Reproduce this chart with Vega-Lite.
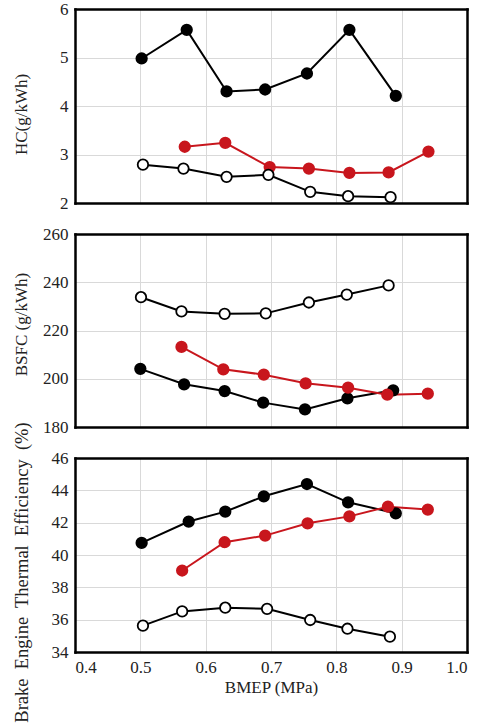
{
  "$schema": "https://vega.github.io/schema/vega-lite/v6.json",
  "background": "white",
  "padding": {"left": 11, "top": 0, "right": 5, "bottom": 0},
  "spacing": 31,
  "bounds": "flush",
  "datasets": {
    "hc": [
      {"bmep": 0.502, "value": 4.98, "series": "filled"},
      {"bmep": 0.571, "value": 5.57, "series": "filled"},
      {"bmep": 0.632, "value": 4.30, "series": "filled"},
      {"bmep": 0.691, "value": 4.34, "series": "filled"},
      {"bmep": 0.755, "value": 4.67, "series": "filled"},
      {"bmep": 0.820, "value": 5.57, "series": "filled"},
      {"bmep": 0.891, "value": 4.21, "series": "filled"},
      {"bmep": 0.568, "value": 3.16, "series": "red"},
      {"bmep": 0.630, "value": 3.24, "series": "red"},
      {"bmep": 0.698, "value": 2.74, "series": "red"},
      {"bmep": 0.758, "value": 2.71, "series": "red"},
      {"bmep": 0.820, "value": 2.62, "series": "red"},
      {"bmep": 0.880, "value": 2.63, "series": "red"},
      {"bmep": 0.941, "value": 3.06, "series": "red"},
      {"bmep": 0.504, "value": 2.79, "series": "open"},
      {"bmep": 0.566, "value": 2.71, "series": "open"},
      {"bmep": 0.632, "value": 2.54, "series": "open"},
      {"bmep": 0.696, "value": 2.58, "series": "open"},
      {"bmep": 0.760, "value": 2.23, "series": "open"},
      {"bmep": 0.818, "value": 2.14, "series": "open"},
      {"bmep": 0.883, "value": 2.12, "series": "open"}
    ],
    "bsfc": [
      {"bmep": 0.501, "value": 233.8, "series": "open"},
      {"bmep": 0.563, "value": 227.9, "series": "open"},
      {"bmep": 0.629, "value": 226.9, "series": "open"},
      {"bmep": 0.692, "value": 227.1, "series": "open"},
      {"bmep": 0.758, "value": 231.6, "series": "open"},
      {"bmep": 0.816, "value": 234.9, "series": "open"},
      {"bmep": 0.880, "value": 238.7, "series": "open"},
      {"bmep": 0.500, "value": 204.1, "series": "filled"},
      {"bmep": 0.567, "value": 197.7, "series": "filled"},
      {"bmep": 0.629, "value": 194.9, "series": "filled"},
      {"bmep": 0.688, "value": 190.1, "series": "filled"},
      {"bmep": 0.752, "value": 187.3, "series": "filled"},
      {"bmep": 0.817, "value": 191.9, "series": "filled"},
      {"bmep": 0.887, "value": 195.2, "series": "filled"},
      {"bmep": 0.563, "value": 213.2, "series": "red"},
      {"bmep": 0.627, "value": 203.9, "series": "red"},
      {"bmep": 0.689, "value": 201.7, "series": "red"},
      {"bmep": 0.753, "value": 198.1, "series": "red"},
      {"bmep": 0.818, "value": 196.3, "series": "red"},
      {"bmep": 0.878, "value": 193.4, "series": "red"},
      {"bmep": 0.940, "value": 193.8, "series": "red"}
    ],
    "bte": [
      {"bmep": 0.502, "value": 40.75, "series": "filled"},
      {"bmep": 0.574, "value": 42.07, "series": "filled"},
      {"bmep": 0.630, "value": 42.68, "series": "filled"},
      {"bmep": 0.689, "value": 43.63, "series": "filled"},
      {"bmep": 0.755, "value": 44.39, "series": "filled"},
      {"bmep": 0.818, "value": 43.26, "series": "filled"},
      {"bmep": 0.891, "value": 42.58, "series": "filled"},
      {"bmep": 0.564, "value": 39.04, "series": "red"},
      {"bmep": 0.629, "value": 40.79, "series": "red"},
      {"bmep": 0.691, "value": 41.20, "series": "red"},
      {"bmep": 0.756, "value": 41.96, "series": "red"},
      {"bmep": 0.820, "value": 42.39, "series": "red"},
      {"bmep": 0.879, "value": 42.99, "series": "red"},
      {"bmep": 0.940, "value": 42.81, "series": "red"},
      {"bmep": 0.504, "value": 35.63, "series": "open"},
      {"bmep": 0.564, "value": 36.51, "series": "open"},
      {"bmep": 0.630, "value": 36.74, "series": "open"},
      {"bmep": 0.694, "value": 36.67, "series": "open"},
      {"bmep": 0.760, "value": 35.98, "series": "open"},
      {"bmep": 0.817, "value": 35.44, "series": "open"},
      {"bmep": 0.882, "value": 34.95, "series": "open"}
    ]
  },
  "vconcat": [
    {
      "width": 392,
      "height": 194,
      "view": {"stroke": null},
      "data": {"name": "hc"},
      "resolve": {"axis": {"x": "independent", "y": "independent"}},
      "layer": [
        {"mark": {"type": "line", "strokeWidth": 2}, "encoding": {
          "x": {"field": "bmep", "type": "quantitative", "scale": {"domain": [0.4, 1.0], "nice": false}, "axis": {"values": [0.4, 0.5, 0.6, 0.7, 0.8, 0.9, 1.0], "labels": false, "title": null, "ticks": false, "domain": true, "domainColor": "black", "domainWidth": 2.5, "domainCap": "square", "gridColor": "#d9d9d9", "gridWidth": 1}},
          "y": {"field": "value", "type": "quantitative", "scale": {"domain": [2, 6], "nice": false}, "axis": {"values": [2, 3, 4, 5, 6], "title": "HC(g/kWh)", "titleX": -45, "titleY": 105, "ticks": false, "domain": true, "domainColor": "black", "domainWidth": 2.5, "domainCap": "square", "gridColor": "#d9d9d9", "gridWidth": 1, "labelFont": "Liberation Serif", "titleFont": "Liberation Serif", "labelFontSize": 17, "titleFontSize": 17, "titleFontWeight": "normal", "labelColor": "#222", "titleColor": "#222", "labelPadding": 7}},
          "stroke": {"field": "series", "type": "nominal", "scale": {"domain": ["open", "filled", "red"], "range": ["black", "black", "#c8161d"]}, "legend": null}}},
        {"mark": {"type": "point", "filled": true, "size": 110, "strokeWidth": 1.8, "opacity": 1}, "encoding": {
          "x": {"field": "bmep", "type": "quantitative", "axis": {"orient": "top", "labels": false, "ticks": false, "grid": false, "title": null, "domain": true, "domainColor": "black", "domainWidth": 2.5, "domainCap": "square"}},
          "y": {"field": "value", "type": "quantitative", "axis": {"orient": "right", "labels": false, "ticks": false, "grid": false, "title": null, "domain": true, "domainColor": "black", "domainWidth": 2.5, "domainCap": "square"}},
          "fill": {"field": "series", "type": "nominal", "scale": {"domain": ["open", "filled", "red"], "range": ["white", "black", "#c8161d"]}, "legend": null},
          "stroke": {"field": "series", "type": "nominal", "legend": null}}}
      ]
    },
    {
      "width": 392,
      "height": 193,
      "view": {"stroke": null},
      "data": {"name": "bsfc"},
      "resolve": {"axis": {"x": "independent", "y": "independent"}},
      "layer": [
        {"mark": {"type": "line", "strokeWidth": 2}, "encoding": {
          "x": {"field": "bmep", "type": "quantitative", "scale": {"domain": [0.4, 1.0], "nice": false}, "axis": {"values": [0.4, 0.5, 0.6, 0.7, 0.8, 0.9, 1.0], "labels": false, "title": null, "ticks": false, "domain": true, "domainColor": "black", "domainWidth": 2.5, "domainCap": "square", "gridColor": "#d9d9d9", "gridWidth": 1}},
          "y": {"field": "value", "type": "quantitative", "scale": {"domain": [180, 260], "nice": false}, "axis": {"values": [180, 200, 220, 240, 260], "title": "BSFC (g/kWh)", "titleX": -45, "titleY": 90, "ticks": false, "domain": true, "domainColor": "black", "domainWidth": 2.5, "domainCap": "square", "gridColor": "#d9d9d9", "gridWidth": 1, "labelFont": "Liberation Serif", "titleFont": "Liberation Serif", "labelFontSize": 17, "titleFontSize": 17, "titleFontWeight": "normal", "labelColor": "#222", "titleColor": "#222", "labelPadding": 7}},
          "stroke": {"field": "series", "type": "nominal", "scale": {"domain": ["open", "filled", "red"], "range": ["black", "black", "#c8161d"]}, "legend": null}}},
        {"mark": {"type": "point", "filled": true, "size": 110, "strokeWidth": 1.8, "opacity": 1}, "encoding": {
          "x": {"field": "bmep", "type": "quantitative", "axis": {"orient": "top", "labels": false, "ticks": false, "grid": false, "title": null, "domain": true, "domainColor": "black", "domainWidth": 2.5, "domainCap": "square"}},
          "y": {"field": "value", "type": "quantitative", "axis": {"orient": "right", "labels": false, "ticks": false, "grid": false, "title": null, "domain": true, "domainColor": "black", "domainWidth": 2.5, "domainCap": "square"}},
          "fill": {"field": "series", "type": "nominal", "scale": {"domain": ["open", "filled", "red"], "range": ["white", "black", "#c8161d"]}, "legend": null},
          "stroke": {"field": "series", "type": "nominal", "legend": null}}}
      ]
    },
    {
      "width": 392,
      "height": 194,
      "view": {"stroke": null},
      "data": {"name": "bte"},
      "resolve": {"axis": {"x": "independent", "y": "independent"}},
      "layer": [
        {"mark": {"type": "line", "strokeWidth": 2}, "encoding": {
          "x": {"field": "bmep", "type": "quantitative", "scale": {"domain": [0.4, 1.0], "nice": false}, "axis": {"values": [0.4, 0.5, 0.6, 0.7, 0.8, 0.9, 1.0], "format": ".1f", "title": "BMEP (MPa)", "titlePadding": 4, "ticks": false, "domain": true, "domainColor": "black", "domainWidth": 2.5, "domainCap": "square", "gridColor": "#d9d9d9", "gridWidth": 1, "labelFont": "Liberation Serif", "titleFont": "Liberation Serif", "labelFontSize": 17, "titleFontSize": 17, "titleFontWeight": "normal", "labelColor": "#222", "titleColor": "#222", "labelPadding": 7}},
          "y": {"field": "value", "type": "quantitative", "scale": {"domain": [34, 46], "nice": false}, "axis": {"values": [34, 36, 38, 40, 42, 44, 46], "title": "Brake\u00a0 Engine\u00a0 Thermal\u00a0 Efficiency\u00a0 (%)", "titleX": -44, "titleY": 114, "ticks": false, "domain": true, "domainColor": "black", "domainWidth": 2.5, "domainCap": "square", "gridColor": "#d9d9d9", "gridWidth": 1, "labelFont": "Liberation Serif", "titleFont": "Liberation Serif", "labelFontSize": 17, "titleFontSize": 18.5, "titleFontWeight": "normal", "labelColor": "#222", "titleColor": "#222", "labelPadding": 7}},
          "stroke": {"field": "series", "type": "nominal", "scale": {"domain": ["open", "filled", "red"], "range": ["black", "black", "#c8161d"]}, "legend": null}}},
        {"mark": {"type": "point", "filled": true, "size": 110, "strokeWidth": 1.8, "opacity": 1}, "encoding": {
          "x": {"field": "bmep", "type": "quantitative", "axis": {"orient": "top", "labels": false, "ticks": false, "grid": false, "title": null, "domain": true, "domainColor": "black", "domainWidth": 2.5, "domainCap": "square"}},
          "y": {"field": "value", "type": "quantitative", "axis": {"orient": "right", "labels": false, "ticks": false, "grid": false, "title": null, "domain": true, "domainColor": "black", "domainWidth": 2.5, "domainCap": "square"}},
          "fill": {"field": "series", "type": "nominal", "scale": {"domain": ["open", "filled", "red"], "range": ["white", "black", "#c8161d"]}, "legend": null},
          "stroke": {"field": "series", "type": "nominal", "legend": null}}}
      ]
    }
  ]
}
